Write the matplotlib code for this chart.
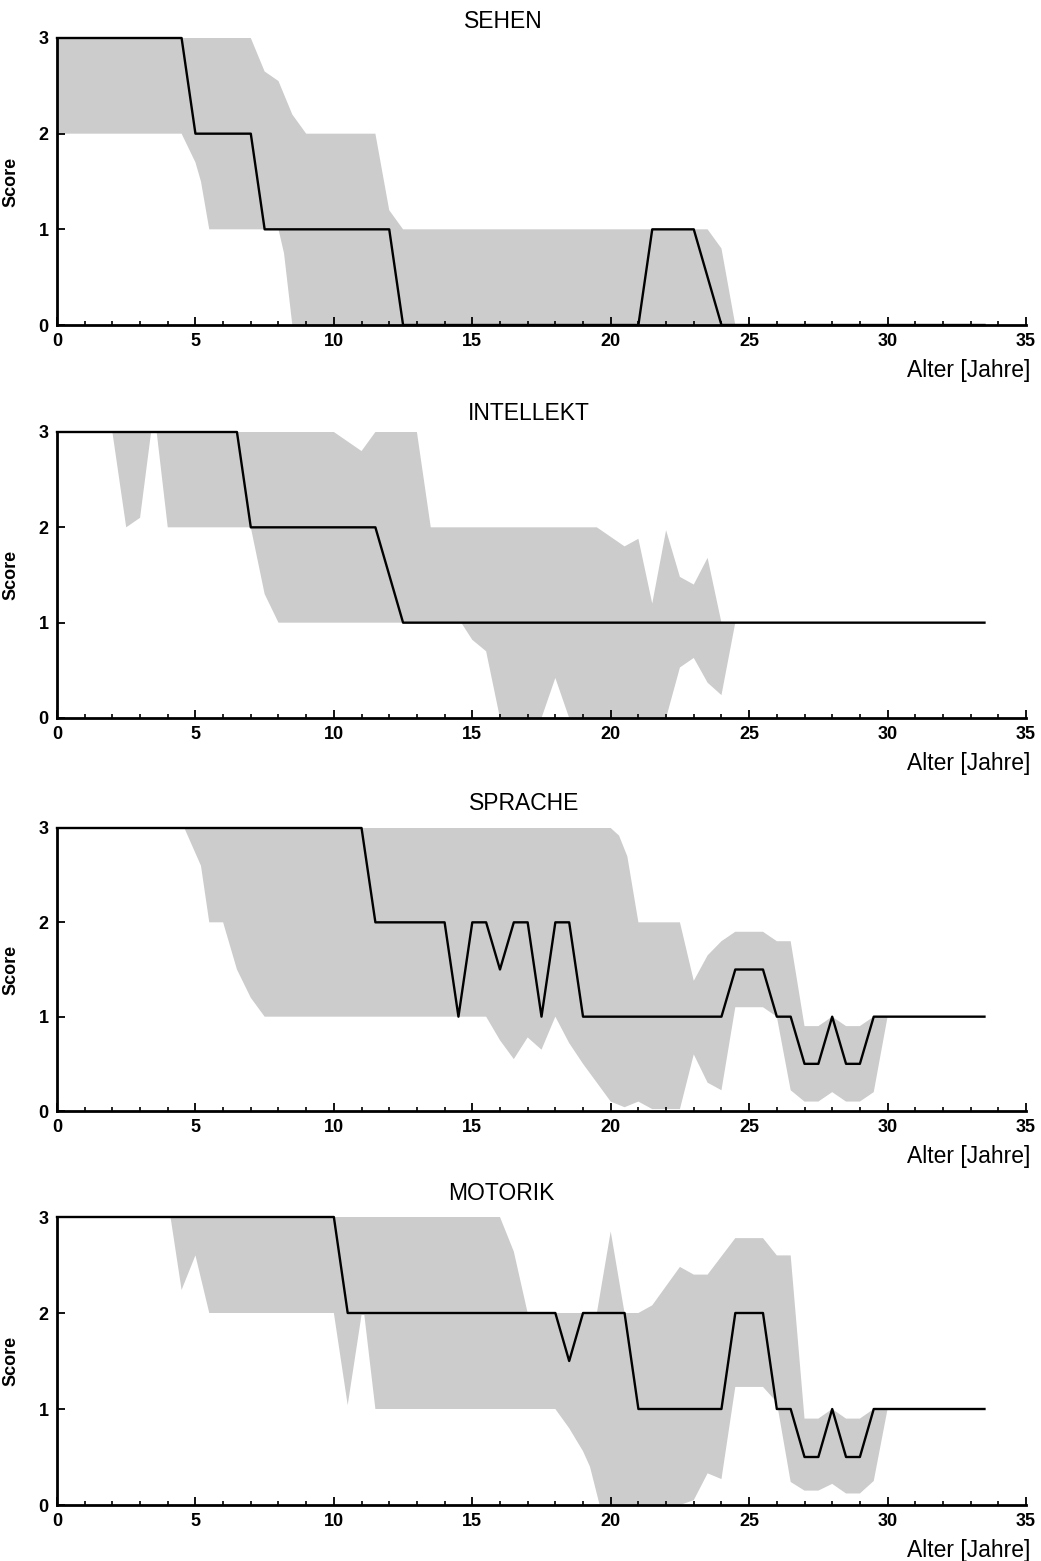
import matplotlib
matplotlib.use('Agg')
import matplotlib.pyplot as plt
from matplotlib.ticker import MultipleLocator
import numpy as np

plt.rcParams['font.family'] = ['Liberation Sans', 'DejaVu Sans']

# --- Daten ---
titles = ['SEHEN', 'INTELLEKT', 'SPRACHE', 'MOTORIK']

# SEHEN
sehen_med_x = [0, 4.5, 5.0, 7.0, 7.5, 12.0, 12.5, 21.0, 21.5, 23.0, 24.0, 33.5]
sehen_med_y = [3, 3, 2, 2, 1, 1, 0, 0, 1, 1, 0, 0]
sehen_up_x = [0, 7.0, 7.5, 8.0, 8.5, 9.0, 11.5, 12.0, 12.5, 23.5, 24.0, 24.5]
sehen_up_y = [3, 3, 2.65, 2.55, 2.2, 2.0, 2.0, 1.2, 1.0, 1.0, 0.8, 0]
sehen_lo_x = [0, 4.5, 5.0, 5.2, 5.5, 8.0, 8.2, 8.5, 24.5]
sehen_lo_y = [2, 2, 1.7, 1.5, 1.0, 1.0, 0.75, 0, 0]

# INTELLEKT
intel_med_x = [0, 6.5, 7.0, 11.5, 12.5, 33.5]
intel_med_y = [3, 3, 2, 2, 1, 1]
intel_up_x = [2.0, 10.0, 11.0, 11.5, 13.0, 13.5, 19.5, 20.5, 21.0, 21.5, 22.0, 22.5, 23.0, 23.5, 24.0, 24.5]
intel_up_y = [3, 3, 2.8, 3, 3, 2, 2, 1.8, 1.88, 1.2, 1.97, 1.48, 1.4, 1.68, 1.0, 1.0]
intel_lo_x = [2.0, 2.5, 3.0, 3.4, 3.6, 4.0, 7.0, 7.5, 8.0, 14.6, 15.0, 15.5, 16.0, 17.5, 18.0, 18.5,
              22.0, 22.5, 23.0, 23.5, 24.0, 24.5]
intel_lo_y = [3, 2.0, 2.1, 3, 3, 2, 2, 1.3, 1.0, 1.0, 0.82, 0.7, 0, 0, 0.42, 0,
              0, 0.53, 0.63, 0.37, 0.24, 1.0]

# SPRACHE
sprache_med_x = [0, 11.0, 11.5, 14.0, 14.5, 15.0, 15.5, 16.0, 16.5, 17.0, 17.5, 18.0, 18.5, 19.0,
                 24.0, 24.5, 25.5, 26.0, 26.5, 27.0, 27.5, 28.0, 28.5, 29.0, 29.5, 33.5]
sprache_med_y = [3, 3, 2, 2, 1, 2, 2, 1.5, 2, 2, 1, 2, 2, 1,
                 1, 1.5, 1.5, 1, 1, 0.5, 0.5, 1, 0.5, 0.5, 1, 1]
sprache_up_x = [4.6, 20.0, 20.3, 20.6, 21.0, 22.5, 23.0, 23.5, 24.0, 24.5, 25.5, 26.0, 26.5,
                27.0, 27.5, 28.0, 28.5, 29.0, 29.5, 30.0]
sprache_up_y = [3, 3, 2.92, 2.7, 2.0, 2.0, 1.38, 1.65, 1.8, 1.9, 1.9, 1.8, 1.8,
                0.9, 0.9, 1.0, 0.9, 0.9, 1.0, 1.0]
sprache_lo_x = [4.6, 5.2, 5.5, 6.0, 6.5, 7.0, 7.5, 15.5, 16.0, 16.5, 17.0, 17.5, 18.0, 18.5,
                19.0, 19.5, 20.0, 20.5, 21.0, 21.5, 22.5, 23.0, 23.5, 24.0, 24.5, 25.5, 26.0,
                26.5, 27.0, 27.5, 28.0, 28.5, 29.0, 29.5, 30.0]
sprache_lo_y = [3, 2.6, 2.0, 2.0, 1.5, 1.2, 1.0, 1.0, 0.75, 0.55, 0.78, 0.65, 1.0, 0.72,
                0.5, 0.3, 0.1, 0.04, 0.1, 0.02, 0.02, 0.6, 0.3, 0.22, 1.1, 1.1, 1.0,
                0.22, 0.1, 0.1, 0.2, 0.1, 0.1, 0.2, 1.0]

# MOTORIK
motorik_med_x = [0, 10.0, 10.5, 18.0, 18.5, 19.0, 20.5, 21.0, 24.0, 24.5, 25.5, 26.0, 26.5,
                 27.0, 27.5, 28.0, 28.5, 29.0, 29.5, 33.5]
motorik_med_y = [3, 3, 2, 2, 1.5, 2, 2, 1, 1, 2, 2, 1, 1,
                 0.5, 0.5, 1, 0.5, 0.5, 1, 1]
motorik_up_x = [4.1, 16.0, 16.5, 17.0, 19.5, 20.0, 20.5, 21.0, 21.5, 22.5, 23.0, 23.5, 24.5,
                25.5, 26.0, 26.5, 27.0, 27.5, 28.0, 28.5, 29.0, 29.5, 30.0]
motorik_up_y = [3, 3, 2.64, 2.0, 2.0, 2.85, 2.0, 2.0, 2.08, 2.48, 2.4, 2.4, 2.78,
                2.78, 2.6, 2.6, 0.9, 0.9, 1.0, 0.9, 0.9, 1.0, 1.0]
motorik_lo_x = [4.1, 4.5, 5.0, 5.5, 10.0, 10.5, 11.0, 11.1, 11.5, 18.0, 18.5, 19.0, 19.25, 19.6,
                22.5, 23.0, 23.5, 24.0, 24.5, 25.5, 26.0, 26.5, 27.0, 27.5, 28.0, 28.5, 29.0,
                29.5, 30.0]
motorik_lo_y = [3, 2.24, 2.6, 2.0, 2.0, 1.04, 1.98, 1.98, 1.0, 1.0, 0.8, 0.56, 0.4, 0.0,
                0.0, 0.05, 0.33, 0.27, 1.23, 1.23, 1.07, 0.24, 0.15, 0.15, 0.22, 0.12, 0.12,
                0.25, 1.0]

panels = [
    (sehen_med_x, sehen_med_y, sehen_up_x, sehen_up_y, sehen_lo_x, sehen_lo_y),
    (intel_med_x, intel_med_y, intel_up_x, intel_up_y, intel_lo_x, intel_lo_y),
    (sprache_med_x, sprache_med_y, sprache_up_x, sprache_up_y, sprache_lo_x, sprache_lo_y),
    (motorik_med_x, motorik_med_y, motorik_up_x, motorik_up_y, motorik_lo_x, motorik_lo_y),
]

# Lage der Achsen in Pixeln (oben, unten) und Titelmitte (x, y)
W, H = 1041, 1561
ax_px = [(38, 325), (432, 718), (828, 1111), (1217, 1505)]
title_px = [(503, 21), (529, 414), (524, 803), (501, 1193)]
left_px, right_px = 57, 1026

fig = plt.figure(figsize=(W / 100, H / 100), dpi=100)

for i, (mx, my, ux, uy, lx, ly) in enumerate(panels):
    top, bot = ax_px[i]
    ax = fig.add_axes([left_px / W, 1 - bot / H, (right_px - left_px) / W, (bot - top) / H])

    # Band: obere Kante vorwaerts, untere Kante rueckwaerts
    poly_x = np.r_[ux, lx[::-1]]
    poly_y = np.r_[uy, ly[::-1]]
    ax.fill(poly_x, poly_y, color='#cccccc', lw=0, zorder=1, clip_on=False)
    ax.plot(mx, my, color='black', lw=1.7, zorder=3, clip_on=False)

    ax.set_xlim(0, 35)
    ax.set_ylim(0, 3)
    ax.set_xticks(range(0, 36, 5))
    ax.set_yticks([0, 1, 2, 3])
    ax.xaxis.set_minor_locator(MultipleLocator(1))
    for s in ['top', 'right']:
        ax.spines[s].set_visible(False)
    for s in ['left', 'bottom']:
        ax.spines[s].set_linewidth(2.0)
        ax.spines[s].set_zorder(2)
    ax.tick_params(axis='both', which='major', direction='in', length=5.5, width=1.3,
                   labelsize=13, pad=6)
    ax.tick_params(axis='x', which='minor', direction='in', length=3, width=1.2)
    for lab in ax.get_xticklabels() + ax.get_yticklabels():
        lab.set_fontweight('bold')
    ax.set_ylabel('Score', fontsize=13, fontweight='bold')
    ax.yaxis.set_label_coords(-(left_px - 19) / (right_px - left_px), 0.5)
    ax.annotate('Alter [Jahre]', xy=(1, 0), xycoords='axes fraction',
                xytext=(3, -32.5), textcoords='offset points',
                ha='right', va='center', fontsize=16.5)

    tx, ty = title_px[i]
    fig.text(tx / W, 1 - ty / H, titles[i], ha='center', va='center', fontsize=16.5)

fig.savefig('out.png', dpi=100)
